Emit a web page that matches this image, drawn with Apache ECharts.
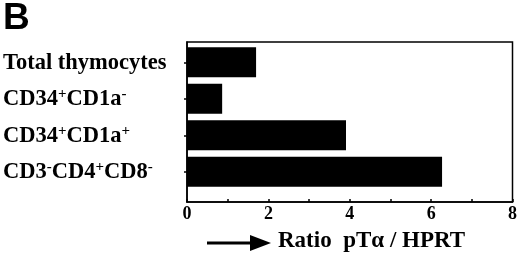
<!DOCTYPE html>
<html>
<head>
<meta charset="utf-8">
<script src="https://cdn.jsdelivr.net/npm/echarts@6/dist/echarts.min.js"></script>
<style>
  html, body { margin: 0; padding: 0; background: #fff; }
  #chart { width: 520px; height: 260px; }
</style>
</head>
<body>
<div id="chart"></div>
<script>
// rich-text labels for the cell populations (s = superscript sign)
const categories = [
  "{t|Total thymocytes}",
  "{t|CD34}{s|+}{t|CD1a}{s|-}",
  "{t|CD34}{s|+}{t|CD1a}{s|+}",
  "{t|CD3}{s|-}{t|CD4}{s|+}{t|CD8}{s|-}",
];
const ratios = [1.69, 0.86, 3.89, 6.24];
const xTicks = [0, 2, 4, 6, 8];

const serif = "'Liberation Serif', 'Times New Roman', serif";

let myChart = echarts.init(document.getElementById("chart"));
let option = {
  animation: false,
  title: {
    text: "B",
    left: -2,
    top: -5,
    textStyle: { fontFamily: "'Liberation Sans', Arial, sans-serif", fontWeight: "bold", fontSize: 37, color: "#000" },
  },
  grid: [
    // outer frame with the x axis
    { left: 187, right: 6, top: 42, bottom: 58, show: true, borderColor: "#000", borderWidth: 1.5 },
    // inner grid holding the bars
    { left: 187, right: 6, top: 44, bottom: 70 },
  ],
  xAxis: [
    {
      gridIndex: 0,
      type: "value",
      min: 0,
      max: 8,
      interval: 1,
      splitLine: { show: false },
      axisLine: { show: true, lineStyle: { color: "#000", width: 1.5 } },
      axisTick: { show: true, inside: true, length: 3, lineStyle: { color: "#000", width: 1.5 } },
      axisLabel: {
        margin: 3,
        color: "#000",
        fontFamily: serif,
        fontWeight: "bold",
        fontSize: 18,
        formatter: function (v) {
          return xTicks.indexOf(v) >= 0 ? String(v) : "";
        },
      },
    },
    { gridIndex: 1, type: "value", min: 0, max: 8, show: false },
  ],
  yAxis: [
    {
      gridIndex: 0,
      type: "value",
      min: 0,
      max: 1,
      splitLine: { show: false },
      axisLabel: { show: false },
      axisTick: { show: false },
      axisLine: { show: true, lineStyle: { color: "#000", width: 1.5 } },
    },
    {
      gridIndex: 1,
      type: "category",
      inverse: true,
      data: categories,
      axisLine: { show: false },
      axisTick: { show: true, alignWithLabel: true, length: 3, lineStyle: { color: "#000", width: 1.5 } },
      axisLabel: {
        align: "left",
        margin: 184,
        color: "#000",
        rich: {
          t: { fontFamily: serif, fontWeight: "bold", fontSize: 22.5, color: "#000", lineHeight: 24, verticalAlign: "bottom" },
          s: { fontFamily: serif, fontWeight: "bold", fontSize: 15, color: "#000", lineHeight: 24, verticalAlign: "top" },
        },
      },
    },
  ],
  series: [
    {
      type: "bar",
      xAxisIndex: 1,
      yAxisIndex: 1,
      data: ratios,
      barWidth: 30,
      itemStyle: { color: "#000" },
    },
  ],
  graphic: [
    {
      type: "line",
      shape: { x1: 207, y1: 243, x2: 252, y2: 243 },
      style: { stroke: "#000", lineWidth: 3 },
    },
    {
      type: "polygon",
      shape: { points: [[250, 235], [271, 243], [250, 251]] },
      style: { fill: "#000" },
    },
    {
      type: "text",
      left: 278,
      top: 230,
      style: { text: "Ratio  pTα / HPRT", fontFamily: serif, fontWeight: "bold", fontSize: 23, fill: "#000" },
    },
  ],
};
option && myChart.setOption(option);
</script>
</body>
</html>
